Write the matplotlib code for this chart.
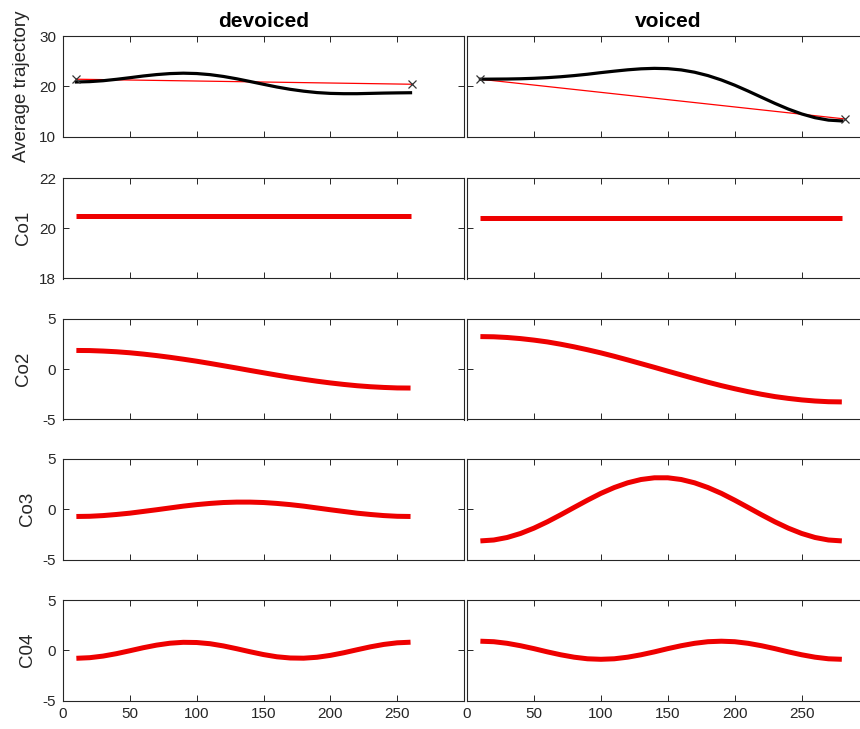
import matplotlib
matplotlib.use("Agg")
import matplotlib.pyplot as plt

plt.rcParams['font.family'] = ['Liberation Sans', 'DejaVu Sans']
plt.rcParams['axes.unicode_minus'] = False

# ---- data -------------------------------------------------------------
x_devoiced = [10, 20, 30, 40, 50, 60, 70, 80, 90, 100, 110, 120, 130,
              140, 150, 160, 170, 180, 190, 200, 210, 220, 230, 240, 250, 260]
x_voiced = [10, 20, 30, 40, 50, 60, 70, 80, 90, 100, 110, 120, 130, 140,
            150, 160, 170, 180, 190, 200, 210, 220, 230, 240, 250, 260, 270, 280]

avg_devoiced = [20.85, 20.92, 21.10, 21.38, 21.70, 22.04, 22.32, 22.52, 22.60,
                22.53, 22.31, 21.95, 21.48, 20.94, 20.39, 19.85, 19.39, 19.02,
                18.74, 18.58, 18.52, 18.52, 18.58, 18.64, 18.68, 18.71]
co1_devoiced = [20.5] * 26
co2_devoiced = [1.87, 1.86, 1.81, 1.74, 1.64, 1.51, 1.36, 1.19, 1.00, 0.80,
                0.58, 0.35, 0.12, -0.12, -0.35, -0.58, -0.80, -1.00, -1.19,
                -1.36, -1.51, -1.64, -1.74, -1.81, -1.86, -1.87]
co3_devoiced = [-0.72, -0.70, -0.63, -0.52, -0.39, -0.22, -0.05, 0.13, 0.31,
                0.46, 0.58, 0.67, 0.71, 0.71, 0.67, 0.58, 0.46, 0.31, 0.13,
                -0.05, -0.22, -0.39, -0.52, -0.63, -0.70, -0.72]
co4_devoiced = [-0.80, -0.74, -0.58, -0.34, -0.05, 0.25, 0.51, 0.70, 0.79,
                0.77, 0.65, 0.43, 0.15, -0.15, -0.43, -0.65, -0.77, -0.79,
                -0.70, -0.51, -0.25, 0.05, 0.34, 0.58, 0.74, 0.80]

avg_voiced = [21.40, 21.42, 21.44, 21.49, 21.58, 21.71, 21.89, 22.12, 22.39,
              22.71, 23.00, 23.27, 23.47, 23.56, 23.50, 23.25, 22.79, 22.12,
              21.25, 20.21, 19.04, 17.81, 16.59, 15.46, 14.49, 13.74, 13.26, 13.10]
co1_voiced = [20.4] * 28
co2_voiced = [3.25, 3.23, 3.16, 3.05, 2.90, 2.72, 2.49, 2.23, 1.94, 1.63,
              1.29, 0.93, 0.56, 0.19, -0.19, -0.56, -0.93, -1.29, -1.63,
              -1.94, -2.23, -2.49, -2.72, -2.90, -3.05, -3.16, -3.23, -3.25]
co3_voiced = [-3.15, -3.06, -2.81, -2.41, -1.88, -1.25, -0.55, 0.18, 0.90,
              1.58, 2.16, 2.63, 2.96, 3.13, 3.13, 2.96, 2.63, 2.16, 1.58,
              0.90, 0.18, -0.55, -1.25, -1.88, -2.41, -2.81, -3.06, -3.15]
co4_voiced = [0.90, 0.85, 0.69, 0.45, 0.16, -0.16, -0.45, -0.69, -0.85,
              -0.90, -0.85, -0.69, -0.45, -0.16, 0.16, 0.45, 0.69, 0.85,
              0.90, 0.85, 0.69, 0.45, 0.16, -0.16, -0.45, -0.69, -0.85, -0.90]

# endpoints of the straight-line (onset/offset) trajectory
ends_x_devoiced = [10, 261]
ends_y_devoiced = [21.4, 20.4]
ends_x_voiced = [10, 282]
ends_y_voiced = [21.4, 13.5]

column_titles = ["devoiced", "voiced"]
row_labels = ["Average trajectory", "Co1", "Co2", "Co3", "C04"]
row_ylims = [(10, 30), (18, 22), (-5, 5), (-5, 5), (-5, 5)]
row_yticks = [[10, 20, 30], [18, 20, 22], [-5, 0, 5], [-5, 0, 5], [-5, 0, 5]]
x_ticks = [0, 50, 100, 150, 200, 250]

# ---- figure -------------------------------------------------------------
W, H = 860, 729
fig = plt.figure(figsize=(W / 100, H / 100), dpi=100)

col_left_px = [63, 467]
col_width_px = [401, 401.6]
row_top_px = [36, 178, 319, 459, 600]
row_h_px = 100.5
label_x = [-0.082, -0.077, -0.077, -0.068, -0.068]

axis_grey = '#262626'

columns = [
    (x_devoiced, avg_devoiced, [co1_devoiced, co2_devoiced, co3_devoiced, co4_devoiced],
     ends_x_devoiced, ends_y_devoiced),
    (x_voiced, avg_voiced, [co1_voiced, co2_voiced, co3_voiced, co4_voiced],
     ends_x_voiced, ends_y_voiced),
]

for c, (xs, avg, comps, ex, ey) in enumerate(columns):
    for r in range(5):
        rect = [col_left_px[c] / W, 1 - (row_top_px[r] + row_h_px) / H,
                col_width_px[c] / W, row_h_px / H]
        ax = fig.add_axes(rect)
        if r == 0:
            ax.plot(ex, ey, color='red', lw=0.9, zorder=2)
            ax.plot(xs, avg, color='black', lw=2.3, zorder=3)
            ax.plot(ex, ey, ls='none', marker='x', color='#333333',
                    ms=6, mew=0.9, zorder=4)
            ax.set_title(column_titles[c], fontsize=15, fontweight='bold',
                         pad=6.5, color='black')
        else:
            ax.plot(xs, comps[r - 1], color='#ee0000', lw=3.6,
                    solid_capstyle='butt')
        ax.set_xlim(0, 300)
        ax.set_ylim(*row_ylims[r])
        ax.set_xticks(x_ticks)
        ax.set_yticks(row_yticks[r])
        ax.tick_params(direction='in', length=4, width=0.7, top=True,
                       right=True, colors=axis_grey, labelsize=11,
                       labelcolor=axis_grey, pad=5)
        # tick marks at the y-limits sit on the frame; hide them
        yt = ax.yaxis.get_major_ticks()
        for t in (yt[0], yt[-1]):
            t.tick1line.set_visible(False)
            t.tick2line.set_visible(False)
        xt = ax.xaxis.get_major_ticks()
        xt[0].tick1line.set_visible(False)
        xt[0].tick2line.set_visible(False)
        for s in ax.spines.values():
            s.set_color(axis_grey)
            s.set_linewidth(0.8)
        if c == 1:
            ax.set_yticklabels([])
        else:
            ax.set_ylabel(row_labels[r], fontsize=13.5, color=axis_grey)
            ax.yaxis.set_label_coords(label_x[r], 0.5)
        if r != 4:
            ax.set_xticklabels([])

fig.savefig("out.png", dpi=100)
